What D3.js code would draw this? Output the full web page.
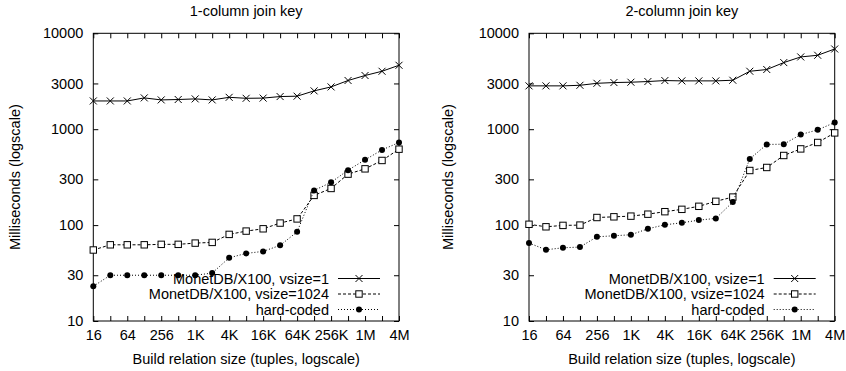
<!DOCTYPE html>
<html><head><meta charset="utf-8">
<script src="https://cdn.jsdelivr.net/npm/d3@7"></script>
<style>
body{margin:0;background:#fff;}
svg{display:block;}
text{font-family:"Liberation Sans",Arial,Helvetica,sans-serif;fill:#000;}
</style></head>
<body><svg id="chart" width="846" height="371"></svg>
<script>
// ---- data ----
const sizes = [16,32,64,128,256,512,1024,2048,4096,8192,16384,32768,65536,131072,262144,524288,1048576,2097152,4194304];
const xTickLabels = ["16","64","256","1K","4K","16K","64K","256K","1M","4M"];
const yTicks = [10,30,100,300,1000,3000,10000];
const seriesNames = ["MonetDB/X100, vsize=1","MonetDB/X100, vsize=1024","hard-coded"];
const panelTitles = ["1-column join key","2-column join key"];

const left_vsize1    = [1970,1970,1970,2120,2020,2040,2070,2020,2150,2100,2110,2190,2210,2510,2760,3220,3630,4020,4640];
const left_vsize1024 = [55,62.3,62.3,62.3,63,63,64.9,66,80,86.6,91.5,105,116,204,241,340,386,472,619];
const left_hardcoded = [23,30,30,30,30,30,30,31.6,45.6,50.7,53.2,61.5,85,230,279,374,479,608,727];

const right_vsize1    = [2830,2830,2830,2870,3010,3065,3090,3140,3215,3190,3190,3190,3240,4020,4190,4950,5670,5900,6860];
const right_vsize1024 = [102,96,99.3,100,120,122,124,130,138,146,157,177,196,371,399,532,623,727,915];
const right_hardcoded = [65,55.3,58,59,75.5,77.4,79.3,91.5,100.7,105.7,112.7,117.4,174,490,693,698,880,984,1174];

const panels = [
  {title: panelTitles[0], x0: 93.3, x1: 399, series: [left_vsize1, left_vsize1024, left_hardcoded], ylabX: 15},
  {title: panelTitles[1], x0: 529, x1: 834.7, series: [right_vsize1, right_vsize1024, right_hardcoded], ylabX: 448}
];

const yTop = 33.3, yBot = 321;
const styles = [
  {dash: null, marker: "x"},
  {dash: "3,2", marker: "square"},
  {dash: "1,2", marker: "dot"}
];

const svg = d3.select("#chart");
const FS = 14.5;

function drawMarker(g, type, x, y) {
  if (type === "x") {
    const s = 3.5;
    g.append("path").attr("d", `M${x-s},${y-s}L${x+s},${y+s}M${x-s},${y+s}L${x+s},${y-s}`)
      .attr("stroke", "#000").attr("stroke-width", 1).attr("fill", "none");
  } else if (type === "square") {
    const s = 3.2;
    g.append("rect").attr("x", x-s).attr("y", y-s).attr("width", 2*s).attr("height", 2*s)
      .attr("stroke", "#000").attr("stroke-width", 1).attr("fill", "#fff");
  } else {
    g.append("circle").attr("cx", x).attr("cy", y).attr("r", 3).attr("fill", "#000");
  }
}

panels.forEach(p => {
  const x = d3.scaleLog().base(2).domain([sizes[0], sizes[sizes.length-1]]).range([p.x0, p.x1]);
  const y = d3.scaleLog().domain([10, 10000]).range([yBot, yTop]);
  const g = svg.append("g");

  // title
  g.append("text").attr("x", (p.x0+p.x1)/2).attr("y", 16).attr("text-anchor", "middle")
    .style("font-size", FS+"px").text(p.title);

  // axes
  const xb = d3.axisBottom(x).tickValues(sizes).tickSizeInner(-5).tickSizeOuter(0).tickPadding(9)
    .tickFormat((d,i) => i % 2 === 0 ? xTickLabels[i/2] : "");
  const xt = d3.axisTop(x).tickValues(sizes).tickSizeInner(-5).tickSizeOuter(0).tickFormat("");
  const yl = d3.axisLeft(y).tickValues(yTicks).tickSizeInner(-5).tickSizeOuter(0).tickPadding(10)
    .tickFormat(d => String(d));
  const yr = d3.axisRight(y).tickValues(yTicks).tickSizeInner(-5).tickSizeOuter(0).tickFormat("");

  [[xb, `translate(0,${yBot})`],[xt, `translate(0,${yTop})`],[yl, `translate(${p.x0},0)`],[yr, `translate(${p.x1},0)`]]
    .forEach(([ax, tr]) => {
      const a = g.append("g").attr("transform", tr).call(ax);
      a.selectAll("text").style("font-size", FS+"px");
      a.attr("font-family", null).attr("font-size", null);
      a.select(".domain").remove();
      a.selectAll("line").attr("stroke", "#000");
    });

  // frame
  g.append("rect").attr("x", p.x0).attr("y", yTop).attr("width", p.x1-p.x0).attr("height", yBot-yTop)
    .attr("fill", "none").attr("stroke", "#000").attr("stroke-width", 1);

  // axis labels
  g.append("text").attr("x", (p.x0+p.x1)/2).attr("y", 364).attr("text-anchor", "middle")
    .style("font-size", FS+"px").text("Build relation size (tuples, logscale)");
  g.append("text").attr("transform", `translate(${p.ylabX+5},${(yTop+yBot)/2}) rotate(-90)`)
    .attr("text-anchor", "middle").style("font-size", FS+"px").text("Milliseconds (logscale)");

  // series
  const line = d3.line().x((d,i) => x(sizes[i])).y(d => y(d));
  p.series.forEach((vals, si) => {
    const st = styles[si];
    const path = g.append("path").datum(vals).attr("d", line).attr("fill", "none")
      .attr("stroke", "#000").attr("stroke-width", 1);
    if (st.dash) path.attr("stroke-dasharray", st.dash);
    vals.forEach((v, i) => drawMarker(g, st.marker, x(sizes[i]), y(v)));
  });

  // legend
  const textRight = p.x1 - 70;
  seriesNames.forEach((name, si) => {
    const cy = 278.5 + si * 15.5;
    const st = styles[si];
    g.append("text").attr("x", textRight).attr("y", cy + 5).attr("text-anchor", "end")
      .style("font-size", FS+"px").text(name);
    const l = g.append("line").attr("x1", textRight + 9).attr("x2", textRight + 51)
      .attr("y1", cy).attr("y2", cy).attr("stroke", "#000").attr("stroke-width", 1);
    if (st.dash) l.attr("stroke-dasharray", st.dash);
    drawMarker(g, st.marker, textRight + 30, cy);
  });
});
</script></body></html>
